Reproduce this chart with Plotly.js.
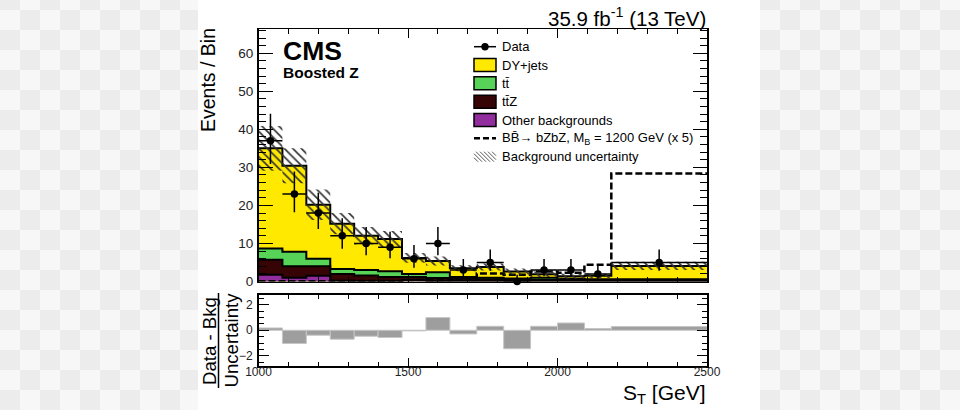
<!DOCTYPE html>
<html><head><meta charset="utf-8">
<script src="https://cdn.plot.ly/plotly-3.0.1.min.js"></script>
<style>html,body{margin:0;padding:0;background:#fff;} #chart{width:960px;height:410px;}</style>
</head><body><div id="chart"></div>
<script>
// ---------------- data ----------------
const binEdges   = [1000,1080,1160,1240,1320,1400,1480,1560,1640,1730,1820,1910,2000,2090,2180,2500];
const dataCounts = [37,23,18,12,10,9,6,10,3,5,0,3,3,2,5];
const dataErrUp  = [7.1,5.9,5.3,4.6,4.3,4.1,3.6,4.3,2.9,3.4,1.8,2.9,2.9,2.6,3.4];
const dataErrDown= [6.1,4.8,4.2,3.4,3.1,2.9,2.4,3.1,1.6,2.2,0,1.6,1.6,1.3,2.2];
const dyJets     = [26.3,22.6,14.2,11.9,9.0,8.5,4.2,3.0,2.3,2.8,1.8,0.9,0.7,0.9,3.5];
const ttbar      = [3.0,3.8,2.0,1.3,1.4,1.5,0.8,1.5,0.4,0.4,0.3,0.6,0.3,0.3,0.2];
const ttZ        = [3.9,3.0,2.5,1.8,1.5,1.1,0.8,0.8,0.7,0.55,0.45,0.35,0.35,0.25,0.3];
const otherBkg   = [1.8,1.0,1.5,0.2,0.1,0.1,0.4,0.1,0.1,0.05,0.05,0.05,0.05,0.05,0.1];
const bkgUnc     = [5.9,4.6,4.0,2.8,2.3,2.1,1.3,1.2,0.8,0.9,0.8,0.7,0.7,0.6,1.1];
const signalX5   = [0.05,0.05,0.05,0.15,0.15,0.15,0.4,0.3,0.6,2.1,1.8,2.6,2.3,4.4,28.4];
const pullValues = [0.18,-1.04,-0.39,-0.7,-0.47,-0.57,-0.05,0.99,-0.29,0.31,-1.45,0.31,0.57,0.13,0.29];
const yTickVals  = [0,10,20,30,40,50,60];
const xTickVals  = [1000,1500,2000,2500];
const ratioTickVals = [-2,0,2];

// ---------------- geometry / styling ----------------
const W=960,H=410;
const px = x => x/W, py = y => 1 - y/H;
const L=258.5, R=707, mainTop=29.3, mainBot=281.5, ratTop=294.5, ratBot=366;
const FONT = 'Liberation Sans, Arial, Helvetica, sans-serif';
const C_DY='#FFE900', C_TT='#57D357', C_TTZ='#360404', C_OTH='#922D9E';

const nb = dataCounts.length;
const centers=[], widths=[], halfW=[];
for(let i=0;i<nb;i++){ centers.push((binEdges[i]+binEdges[i+1])/2); widths.push(binEdges[i+1]-binEdges[i]); halfW.push(widths[i]/2); }
const stepY = a => a.concat([a[a.length-1]]);
const cumOther = otherBkg.slice();
const cumTtZ = cumOther.map((v,i)=>v+ttZ[i]);
const cumTt  = cumTtZ.map((v,i)=>v+ttbar[i]);
const total  = cumTt.map((v,i)=>v+dyJets[i]);
const uncLo  = total.map((v,i)=>v-bkgUnc[i]);
const uncHi  = total.map((v,i)=>v+bkgUnc[i]);

function stackTrace(cum,color){
  return {type:'scatter',x:binEdges,y:stepY(cum),mode:'lines',line:{shape:'hv',color:'#000',width:2},
    fill:'tozeroy',fillcolor:color,xaxis:'x',yaxis:'y',hoverinfo:'skip',showlegend:false};
}
const traces = [
  stackTrace(total,C_DY), stackTrace(cumTt,C_TT), stackTrace(cumTtZ,C_TTZ), stackTrace(cumOther,C_OTH),
  {type:'scatter',x:binEdges,y:stepY(signalX5),mode:'lines',line:{shape:'hv',color:'#000',width:2.5,dash:'7px,3px'},
    xaxis:'x',yaxis:'y',hoverinfo:'skip',showlegend:false},
  {type:'scatter',x:binEdges,y:stepY(uncLo),mode:'lines',line:{shape:'hv',width:0,color:'rgba(0,0,0,0)'},
    xaxis:'x',yaxis:'y',hoverinfo:'skip',showlegend:false},
  {type:'scatter',x:binEdges,y:stepY(uncHi),mode:'lines',line:{shape:'hv',width:0,color:'rgba(0,0,0,0)'},
    fill:'tonexty',fillcolor:'rgba(0,0,0,0)',
    fillpattern:{shape:'\\',size:6,solidity:0.28,fgcolor:'#333',bgcolor:'rgba(0,0,0,0)'},
    xaxis:'x',yaxis:'y',hoverinfo:'skip',showlegend:false},
  {type:'scatter',x:centers,y:dataCounts,mode:'markers',marker:{size:7.5,color:'#000'},cliponaxis:false,
    error_y:{type:'data',symmetric:false,array:dataErrUp,arrayminus:dataErrDown,color:'#000',thickness:1.5,width:0},
    error_x:{type:'data',array:halfW,color:'#000',thickness:1.5,width:0},
    xaxis:'x',yaxis:'y',hoverinfo:'skip',showlegend:false},
  {type:'bar',x:centers,y:pullValues,width:widths,marker:{color:'#9e9e9e',line:{color:'#c6c6c6',width:1}},
    xaxis:'x2',yaxis:'y2',hoverinfo:'skip',showlegend:false}
];

const axBase = {showline:true,linecolor:'#000',linewidth:1.5,mirror:'allticks',ticks:'inside',tickcolor:'#000',
  tickwidth:1,zeroline:false,showgrid:false,fixedrange:true,tickfont:{family:FONT,color:'#222'}};

// ---------------- shapes: background, legend, ratio title bar ----------------
const shapes = [];
for(let cx=0; cx<W; cx+=20){
  if(cx>=200 && cx<760) continue;
  for(let ry=-10, j=0; ry<H; ry+=20, j++){
    if(((cx/20)+j)%2===0){
      shapes.push({type:'rect',xref:'paper',yref:'paper',x0:px(cx),x1:px(cx+20),y0:py(Math.min(ry+20,H)),y1:py(Math.max(ry,0)),
        fillcolor:'#ececec',line:{width:0},layer:'below'});
    }
  }
}
shapes.push({type:'rect',xref:'paper',yref:'paper',x0:px(198),x1:px(760),y0:0,y1:1,fillcolor:'#fff',line:{width:0},layer:'below'});

const legX0=474, legX1=496, legTx=501;
const rows=[46.7,65,83.3,101.7,120,138.3,156.7];
// Data symbol
shapes.push({type:'line',xref:'paper',yref:'paper',x0:px(legX0),x1:px(legX1),y0:py(rows[0]),y1:py(rows[0]),line:{color:'#000',width:1.5}});
shapes.push({type:'circle',xref:'paper',yref:'paper',x0:px(481.3),x1:px(488.7),y0:py(rows[0]+3.7),y1:py(rows[0]-3.7),fillcolor:'#000',line:{width:0}});
// filled boxes
[[C_DY,1],[C_TT,2],[C_TTZ,3],[C_OTH,4]].forEach(([c,r])=>{
  shapes.push({type:'rect',xref:'paper',yref:'paper',x0:px(legX0),x1:px(legX1),y0:py(rows[r]+6.5),y1:py(rows[r]-6.5),
    fillcolor:c,line:{color:'#000',width:1.5}});
});
// signal dashed
shapes.push({type:'line',xref:'paper',yref:'paper',x0:px(legX0),x1:px(legX1),y0:py(rows[5]),y1:py(rows[5]),line:{color:'#000',width:2.5,dash:'6px,3px'}});
// hatch box
(function(){
  const y0=rows[6]-5, y1=rows[6]+5, h=y1-y0;
  for(let s=legX0-h; s<legX1; s+=4){
    let xa=s, ya=y0, xb=s+h, yb=y1;
    if(xa<legX0){ ya=y0+(legX0-xa); xa=legX0; }
    if(xb>legX1){ yb=y1-(xb-legX1); xb=legX1; }
    if(xb<=xa) continue;
    shapes.push({type:'line',xref:'paper',yref:'paper',x0:px(xa),y0:py(ya),x1:px(xb),y1:py(yb),line:{color:'#444',width:0.9}});
  }
})();
// ratio title fraction bar
shapes.push({type:'line',xref:'paper',yref:'paper',x0:px(218.5),x1:px(218.5),y0:py(293),y1:py(388),line:{color:'#000',width:1.5}});

// ---------------- annotations ----------------
function ann(text,x,y,size,opts){
  return Object.assign({text:text,xref:'paper',yref:'paper',x:px(x),y:py(y),showarrow:false,
    font:{family:FONT,size:size,color:'#000'},xanchor:'left',yanchor:'middle',borderpad:0},opts||{});
}
const legendLabels = ['Data','DY+jets','tt\u0304','tt\u0304Z','Other backgrounds',
  'BB\u0304\u2192 bZbZ, M<sub>B</sub> = 1200 GeV (x 5)','Background uncertainty'];
const annotations = [
  ann('35.9 fb<sup>-1</sup> (13 TeV)',707,17,20.5,{xanchor:'right'}),
  ann('<b>CMS</b>',282,50.5,26.5),
  ann('<b>Boosted Z</b>',282,72.5,15.5),
  ann('Events / Bin',208.5,80.5,19.5,{xanchor:'center',textangle:-90}),
  ann('Data - Bkg',209,341,18.6,{xanchor:'center',textangle:-90}),
  ann('Uncertainty',231,340.5,18.6,{xanchor:'center',textangle:-90}),
  ann('S<sub>T</sub> [GeV]',707,394,21,{xanchor:'right'})
];
legendLabels.forEach((t,i)=>annotations.push(ann(t,legTx,rows[i],13)));

const layout = {
  width:W,height:H,autosize:false,margin:{l:0,r:0,t:0,b:0},
  paper_bgcolor:'#f7f7f7',plot_bgcolor:'rgba(0,0,0,0)',showlegend:false,
  font:{family:FONT,color:'#000'},
  xaxis:Object.assign({},axBase,{domain:[px(L),px(R)],range:[1000,2500],anchor:'y',showticklabels:false,
    tickmode:'array',tickvals:xTickVals,ticklen:9,
    minor:{tick0:1000,dtick:100,ticklen:4.5,ticks:'inside',tickcolor:'#000',tickwidth:1}}),
  yaxis:Object.assign({},axBase,{domain:[py(mainBot),py(mainTop)],range:[0,66.3],anchor:'x',
    tickmode:'array',tickvals:yTickVals,ticklen:14,ticklabelstandoff:1,tickfont:{family:FONT,size:13.5,color:'#222'},
    minor:{tick0:0,dtick:2,ticklen:7,ticks:'inside',tickcolor:'#000',tickwidth:1}}),
  xaxis2:Object.assign({},axBase,{domain:[px(L),px(R)],range:[1000,2500],anchor:'y2',
    tickmode:'array',tickvals:xTickVals,ticklen:8,ticklabelstandoff:-6,tickfont:{family:FONT,size:12,color:'#222'},
    minor:{tick0:1000,dtick:100,ticklen:4,ticks:'inside',tickcolor:'#000',tickwidth:1}}),
  yaxis2:Object.assign({},axBase,{domain:[py(ratBot),py(ratTop)],range:[-2.8,2.8],anchor:'x2',
    tickmode:'array',tickvals:ratioTickVals,ticklen:10,ticklabelstandoff:2,tickfont:{family:FONT,size:12,color:'#222'},
    minor:{tick0:0,dtick:0.5,ticklen:5,ticks:'inside',tickcolor:'#000',tickwidth:1}}),
  shapes:shapes,annotations:annotations
};
Plotly.newPlot('chart',traces,layout,{staticPlot:true,displayModeBar:false});
</script></body></html>
